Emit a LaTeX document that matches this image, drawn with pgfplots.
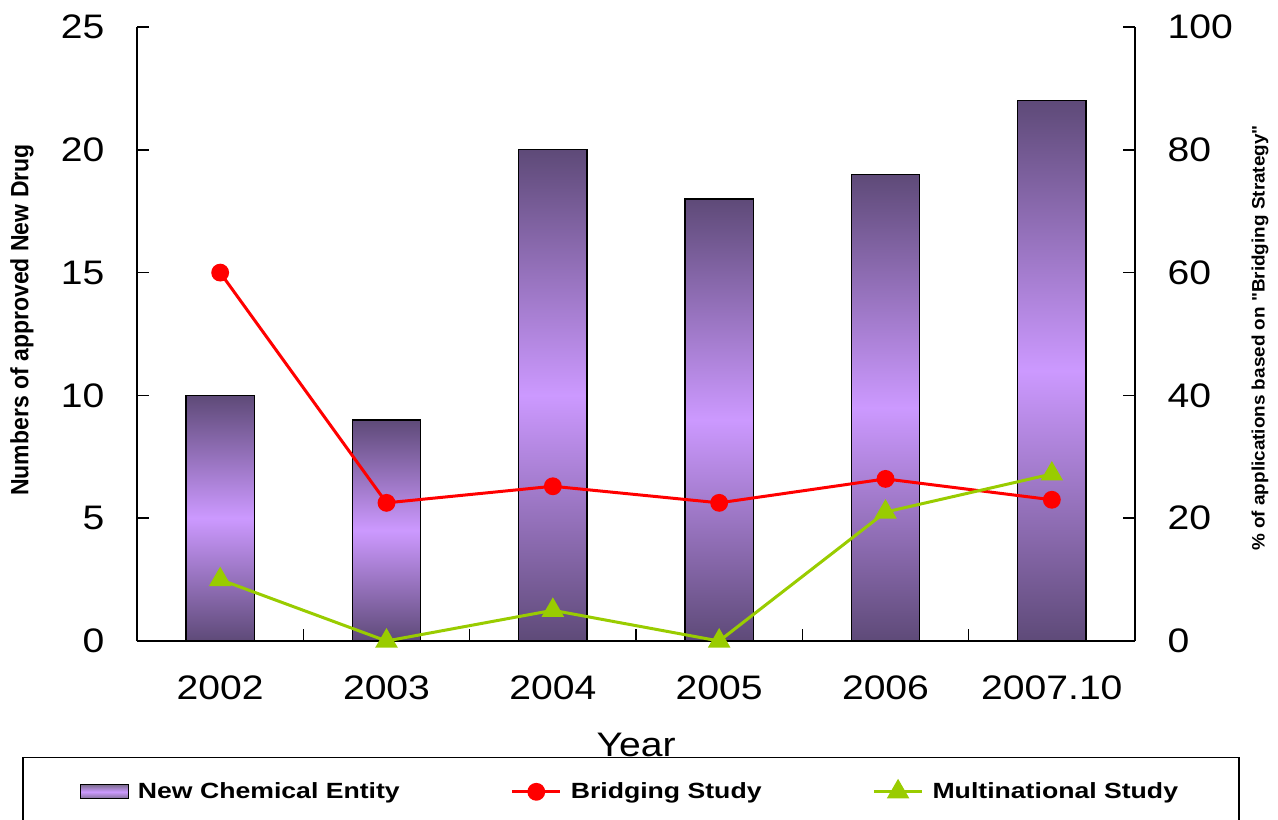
\documentclass[border=0pt]{standalone}
\usepackage{pgfplots}
\pgfplotsset{compat=1.18}
\usepackage{fontspec}
\setmainfont{Liberation Sans}
\newfontfamily\tickfont[FakeStretch=1.15]{Liberation Sans}
\newfontfamily\legfont[FakeStretch=1.21]{Liberation Sans}
\newfontfamily\ylabfont[FakeStretch=0.92]{Liberation Sans}
\newfontfamily\rlabfont[FakeStretch=1.05]{Liberation Sans}
\definecolor{bardark}{RGB}{94,74,120}
\definecolor{barlight}{RGB}{204,153,255}
\definecolor{mgreen}{RGB}{153,204,0}

\pgfplotstableread{
x bridging multi
0 60.0 10.0
1 22.5 0.0
2 25.2 5.0
3 22.5 0.0
4 26.4 21.0
5 23.0 27.2
}\linetable

\pgfplotsset{
  common/.style={
    at={(68.5pt,89pt)}, anchor=south west,
    width=499pt, height=307pt, scale only axis,
    xmin=-0.5, xmax=5.5,
    tick align=inside,
    major tick length=6pt,
    axis line style={line width=0.75pt, black},
    tick style={line width=0.75pt, black},
    /pgf/number format/assume math mode=true,
    tick label style={font=\tickfont\fontsize{17}{20}\selectfont},
  },
  nce/.style={ybar, bar shift=0pt, bar width=0.41, draw=black, line width=0.6pt,
    top color=bardark, bottom color=bardark, middle color=barlight},
}

\begin{document}
\begin{tikzpicture}
\useasboundingbox (0,0) rectangle (639pt,409.5pt);
\begin{axis}[common,
  ymin=0, ymax=25,
  ytick={0,5,10,15,20,25},
  xtick={-0.5,0.5,1.5,2.5,3.5,4.5,5.5},
  xticklabels={2002,2003,2004,2005,2006,2007.10},
  x tick label as interval,
  axis x line*=bottom, axis y line*=left,
  yticklabel style={xshift=-12.8pt},
  xticklabel style={yshift=-13.8pt},
  every axis x label/.style={at={(axis description cs:0.5,-0.1889)}, anchor=base},
  xlabel={\tickfont\fontsize{17}{20}\selectfont Year},
  every axis y label/.style={at={(axis description cs:-0.1152,0.5228)}, anchor=center, rotate=90},
  ylabel={\ylabfont\bfseries\fontsize{12.5}{14}\selectfont Numbers of approved New Drug},
]
% New Chemical Entity (one bar per plot so each bar gets its own shading)
\addplot[nce] coordinates {(0,10)};
\addplot[nce] coordinates {(1,9)};
\addplot[nce] coordinates {(2,20)};
\addplot[nce] coordinates {(3,18)};
\addplot[nce] coordinates {(4,19)};
\addplot[nce] coordinates {(5,22)};
\end{axis}
\begin{axis}[common,
  ymin=0, ymax=100,
  ytick={0,20,40,60,80,100},
  axis x line=none, axis y line*=right,
  clip=false,
  yticklabel style={xshift=12.8pt},
  every axis y label/.style={at={(axis description cs:1.1253,0.4935)}, anchor=center, rotate=90},
  ylabel={\rlabfont\bfseries\fontsize{9}{11}\selectfont \% of applications based on "Bridging Strategy"},
  legend columns=3,
  legend style={at={(axis description cs:-0.1152,-0.1889)}, anchor=north west,
    draw=black, line width=0.75pt, fill=white,
    inner xsep=28.5pt, inner ysep=10.3pt,
    font=\legfont\bfseries\fontsize{11}{13}\selectfont,
    /tikz/every odd column/.append style={column sep=2.5pt},
    /tikz/every even column/.append style={column sep=53.5pt}},
  legend cell align=left,
  legend image code/.code={\draw[mark repeat=2,mark phase=2,#1] plot coordinates {(0pt,0pt)(12pt,0pt)(24pt,0pt)};},
]
\addlegendimage{legend image code/.code={\draw[draw=black, line width=0.6pt, top color=bardark!80, bottom color=bardark!80, middle color=barlight] (0pt,-3.5pt) rectangle (24pt,3.5pt);}}
\addlegendentry{New Chemical Entity}
\addplot[red, line width=1.5pt, mark=*, mark size=3.7pt]
  table[x=x, y=bridging] {\linetable};
\addlegendentry{Bridging Study}
\addplot[mgreen, line width=1.5pt, mark=triangle*, mark size=5pt, mark options={solid}]
  table[x=x, y=multi] {\linetable};
\addlegendentry{Multinational Study}
\end{axis}
\end{tikzpicture}
\end{document}
